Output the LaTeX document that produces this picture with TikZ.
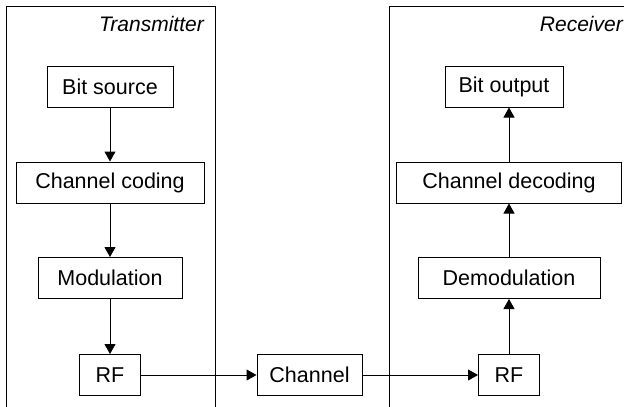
\documentclass[tikz,border=0pt]{standalone}
\usepackage{fontspec}
\setmainfont{Liberation Sans}
\usetikzlibrary{arrows.meta}
\begin{document}
\begin{tikzpicture}[x=1pt,y=-1pt,
  blk/.style={draw,line width=1pt,inner sep=0pt,minimum height=41pt,font=\fontsize{21.5}{25}\selectfont},
  conn/.style={line width=1pt,-{Triangle[length=10pt,width=11pt]}},
  frame/.style={line width=1pt},
  lbl/.style={font=\fontsize{21}{25}\selectfont\itshape,inner sep=0pt,anchor=east}]
\useasboundingbox (0,0) rectangle (624,407);
\begin{scope}
\clip (0,0) rectangle (624,407);
\draw[frame] (6.5,410) -- (6.5,6.5) -- (215,6.5) -- (215,410);
\draw[frame] (389.5,410) -- (389.5,6.5) -- (640,6.5) -- (640,410);
\end{scope}
\node[lbl] (tx) at (204,24) {Transmitter};
\node[lbl] (rx) at (623,24) {Receiver};
\node[blk,minimum width=126pt] (bsrc) at (110,86.5) {Bit source};
\node[blk,minimum width=188pt] (ccod) at (110,182.5) {Channel coding};
\node[blk,minimum width=144pt] (mod) at (110,278) {Modulation};
\node[blk,minimum width=61pt] (rf1) at (110,375) {RF};
\node[blk,minimum width=105pt] (chan) at (309.5,375) {Channel};
\node[blk,minimum width=61pt] (rf2) at (509,375) {RF};
\node[blk,minimum width=182pt] (demod) at (509,278) {Demodulation};
\node[blk,minimum width=225pt] (cdec) at (509,182.5) {Channel decoding};
\node[blk,minimum width=118pt] (bout) at (504,86.5) {Bit output};
\draw[conn] (bsrc.south) -- (ccod.north);
\draw[conn] (ccod.south) -- (mod.north);
\draw[conn] (mod.south) -- (rf1.north);
\draw[conn] (rf1.east) -- (chan.west);
\draw[conn] (chan.east) -- (rf2.west);
\draw[conn] (rf2.north) -- (demod.south);
\draw[conn] (demod.north) -- (cdec.south);
\draw[conn] (cdec.north) -- (cdec.north |- bout.south);
\end{tikzpicture}
\end{document}
